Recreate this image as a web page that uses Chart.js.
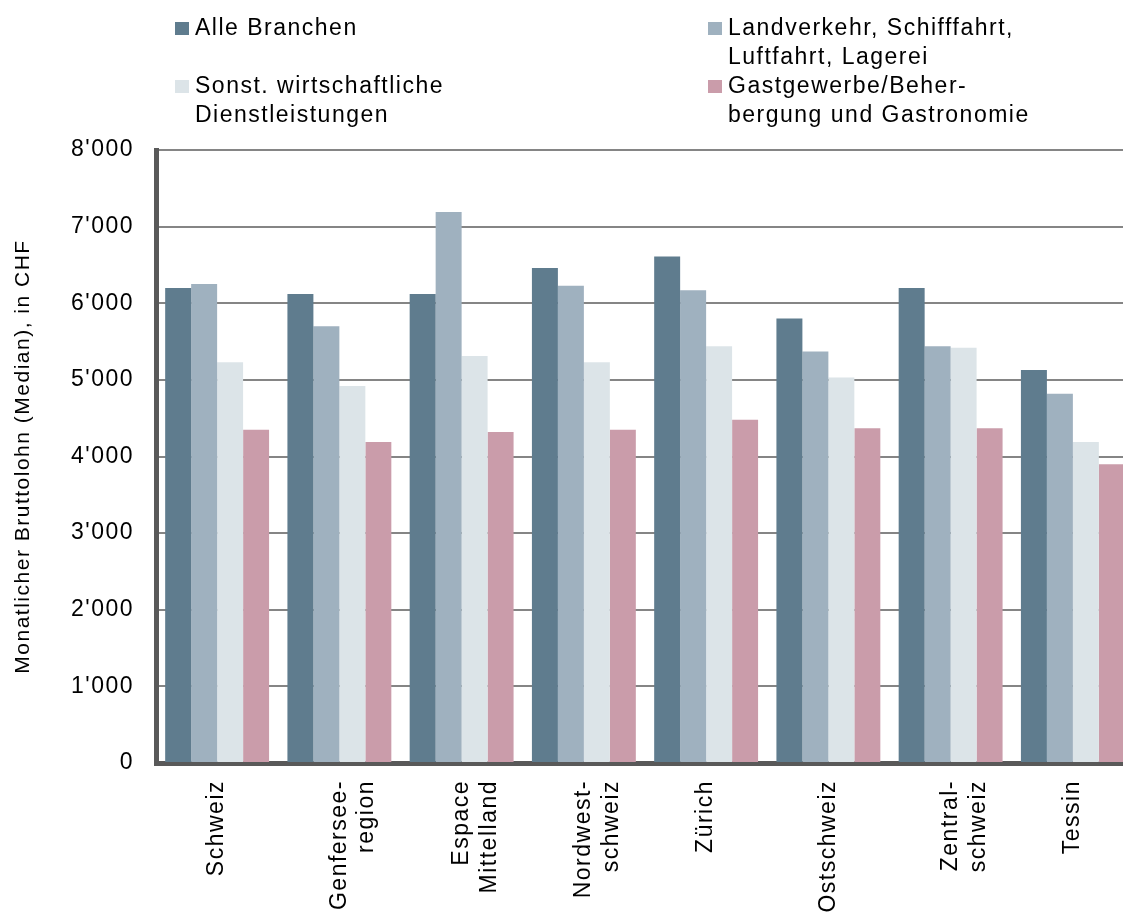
<!DOCTYPE html>
<html>
<head>
<meta charset="utf-8">
<script src="https://cdn.jsdelivr.net/npm/chart.js@4.4.1/dist/chart.umd.min.js"></script>
<style>
  html, body { margin: 0; padding: 0; background: #fff; overflow: hidden; }
  body { width: 1123px; height: 916px; position: relative; }
  #chart { position: absolute; left: 0; top: 0; }
  .legend-item {
    position: absolute;
    font-family: "Liberation Sans", Arial, sans-serif;
    font-size: 23px;
    letter-spacing: 1.5px;
    line-height: 29px;
    color: #000;
    padding-left: 20px;
    white-space: nowrap;
  }
  .legend-item .box {
    position: absolute;
    left: 0;
    top: 9px;
    width: 14px;
    height: 13px;
  }
</style>
</head>
<body>
<canvas id="chart" width="1134" height="916"></canvas>
<div id="legend"></div>
<script>
const regions = ['Schweiz', ['Genfersee-', 'region'], ['Espace', 'Mittelland'], ['Nordwest-', 'schweiz'],
  'Zürich', 'Ostschweiz', ['Zentral-', 'schweiz'], 'Tessin'];

const seriesNames = [
  ['Alle Branchen'],
  ['Landverkehr, Schifffahrt,', 'Luftfahrt, Lagerei'],
  ['Sonst. wirtschaftliche', 'Dienstleistungen'],
  ['Gastgewerbe/Beher-', 'bergung und Gastronomie']
];

const alleBranchen     = [6200, 6120, 6120, 6460, 6610, 5800, 6200, 5130];
const landverkehr      = [6250, 5700, 7190, 6230, 6170, 5370, 5440, 4820];
const dienstleistungen = [5230, 4920, 5310, 5230, 5440, 5030, 5420, 4190];
const gastgewerbe      = [4350, 4190, 4320, 4350, 4480, 4370, 4370, 3900];

const yTickLabels = ['0', "1'000", "2'000", "3'000", "4'000", "5'000", "6'000", "7'000", "8'000"];
const yTitle = 'Monatlicher Bruttolohn (Median), in CHF';

const colors = ['#5f7c8e', '#9fb1bf', '#dce4e8', '#ca9caa'];
const values = [alleBranchen, landverkehr, dienstleistungen, gastgewerbe];

// legend in two columns, each entry two lines high
const legendSpots = [[175, 13], [708, 13], [175, 71], [708, 71]];
const legend = document.getElementById('legend');
seriesNames.forEach((lines, i) => {
  const item = document.createElement('div');
  item.className = 'legend-item';
  item.style.left = legendSpots[i][0] + 'px';
  item.style.top = legendSpots[i][1] + 'px';
  const box = document.createElement('span');
  box.className = 'box';
  box.style.background = colors[i];
  item.appendChild(box);
  lines.forEach((line, j) => {
    if (j > 0) item.appendChild(document.createElement('br'));
    item.appendChild(document.createTextNode(line));
  });
  legend.appendChild(item);
});

// canvas text gets the same loose spacing as the legend
const spacing = {
  id: 'spacing',
  beforeUpdate(chart) { chart.ctx.letterSpacing = '1.5px'; },
  beforeDraw(chart) { chart.ctx.letterSpacing = '1.5px'; }
};

Chart.defaults.font.family = '"Liberation Sans", Arial, sans-serif';
Chart.defaults.color = '#000';

const datos = {
  labels: regions,
  datasets: values.map((v, i) => ({
    label: seriesNames[i].join(' '),
    data: v,
    backgroundColor: colors[i],
    borderWidth: 0,
    categoryPercentage: 0.85,
    barPercentage: 1.0
  }))
};

const options = {
  responsive: false,
  animation: false,
  layout: { padding: { top: 150, left: 0, right: 0, bottom: 0 } },
  plugins: {
    legend: { display: false },
    tooltip: { enabled: false }
  },
  scales: {
    x: {
      grid: { display: false, drawTicks: false },
      border: { display: true, color: '#595959', width: 5 },
      ticks: {
        font: { size: 23 },
        maxRotation: 90,
        minRotation: 90,
        autoSkip: false,
        padding: 17
      },
      afterFit(scale) { scale.height = 153; }
    },
    y: {
      min: 0,
      max: 8000,
      grid: { color: '#858585', lineWidth: 2, drawTicks: false },
      border: { display: true, color: '#595959', width: 5 },
      ticks: {
        stepSize: 1000,
        font: { size: 23 },
        padding: 22,
        callback: (value, index) => yTickLabels[index]
      },
      title: {
        display: true,
        text: yTitle,
        font: { size: 21 },
        padding: { top: 11, bottom: 0 }
      },
      afterFit(scale) { scale.width = 156; }
    }
  }
};

const ctx = document.getElementById('chart').getContext('2d');
new Chart(ctx, { type: 'bar', data: datos, options, plugins: [spacing] });
</script>
</body>
</html>
